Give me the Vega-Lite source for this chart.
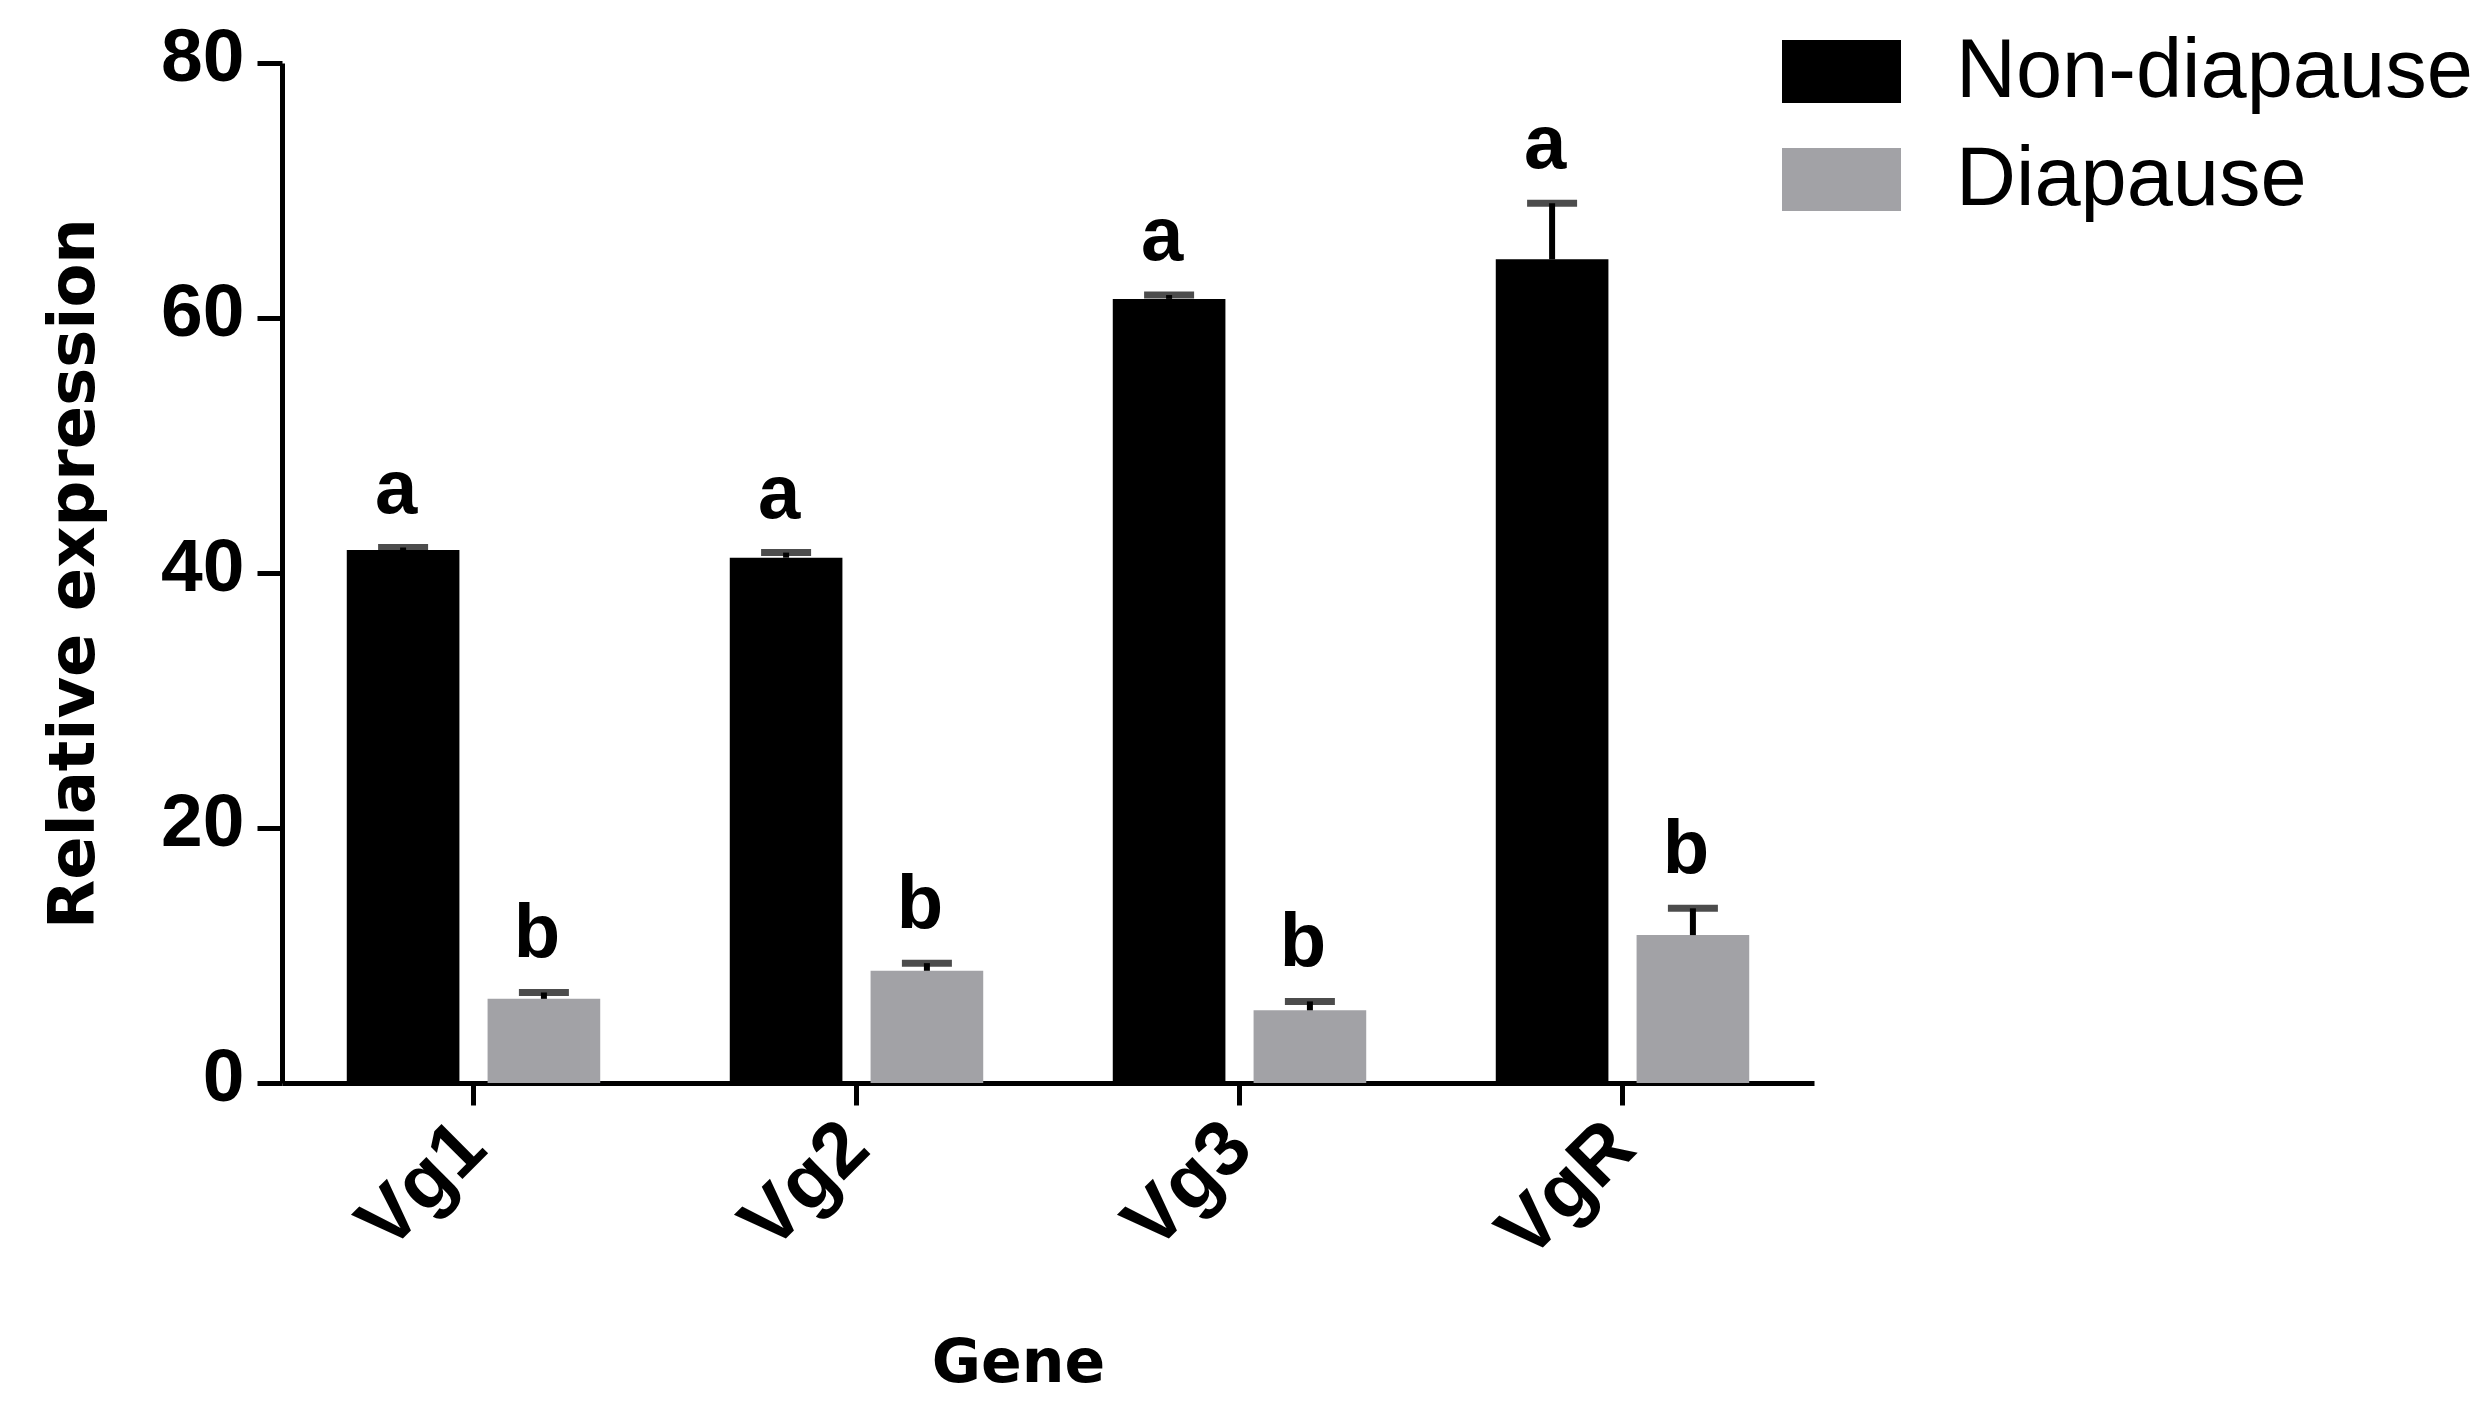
{
  "$schema": "https://vega.github.io/schema/vega-lite/v6.json",
  "width": 1532,
  "height": 1020,
  "autosize": {"type": "none"},
  "padding": {"left": 282, "top": 63, "right": 670, "bottom": 329},
  "background": "white",
  "config": {"view": {"stroke": null}},
  "data": {
    "values": [
      {"gene": "Vg1", "group": "Non-diapause", "value": 41.8, "upper": 42.0, "sig": "a"},
      {"gene": "Vg1", "group": "Diapause", "value": 6.6, "upper": 7.1, "sig": "b"},
      {"gene": "Vg2", "group": "Non-diapause", "value": 41.2, "upper": 41.6, "sig": "a"},
      {"gene": "Vg2", "group": "Diapause", "value": 8.8, "upper": 9.4, "sig": "b"},
      {"gene": "Vg3", "group": "Non-diapause", "value": 61.5, "upper": 61.8, "sig": "a"},
      {"gene": "Vg3", "group": "Diapause", "value": 5.7, "upper": 6.4, "sig": "b"},
      {"gene": "VgR", "group": "Non-diapause", "value": 64.6, "upper": 69.0, "sig": "a"},
      {"gene": "VgR", "group": "Diapause", "value": 11.6, "upper": 13.7, "sig": "b"}
    ]
  },
  "encoding": {
    "x": {
      "field": "gene",
      "type": "nominal",
      "sort": ["Vg1", "Vg2", "Vg3", "VgR"],
      "scale": {"paddingInner": 0, "paddingOuter": 0},
      "title": "Gene",
      "axis": {
        "domainColor": "black",
        "domainWidth": 5,
        "tickColor": "black",
        "tickWidth": 5,
        "tickSize": 22,
        "labelAngle": -45,
        "labelAlign": "right",
        "labelBaseline": "middle",
        "labelFont": "Liberation Sans",
        "labelFontWeight": "bold",
        "labelFontSize": 78,
        "labelColor": "black",
        "labelPadding": 30,
        "titleFont": "DejaVu Sans",
        "titleFontWeight": "bold",
        "titleFontSize": 60,
        "titleColor": "black",
        "titlePadding": 62,
        "titleX": 736
      }
    },
    "xOffset": {
      "field": "group",
      "type": "nominal",
      "sort": ["Non-diapause", "Diapause"],
      "scale": {"paddingInner": 0.2, "paddingOuter": 0.46}
    }
  },
  "layer": [
    {
      "mark": {"type": "bar"},
      "encoding": {
        "y": {
          "field": "value",
          "type": "quantitative",
          "scale": {"domain": [0, 80]},
          "title": "Relative expression",
          "axis": {
            "values": [0, 20, 40, 60, 80],
            "grid": false,
            "domainColor": "black",
            "domainWidth": 5,
            "tickColor": "black",
            "tickWidth": 5,
            "tickSize": 25,
            "labelFont": "Liberation Sans",
            "labelFontWeight": "bold",
            "labelFontSize": 75,
            "labelColor": "black",
            "labelPadding": 13,
            "labelOffset": -6,
            "titleFont": "DejaVu Sans",
            "titleFontWeight": "bold",
            "titleFontSize": 64,
            "titleColor": "black",
            "titlePadding": 54
          }
        },
        "color": {
          "field": "group",
          "type": "nominal",
          "sort": ["Non-diapause", "Diapause"],
          "scale": {"domain": ["Non-diapause", "Diapause"], "range": ["#000000", "#a2a2a6"]},
          "legend": {
            "orient": "none",
            "legendX": 1500,
            "legendY": -51,
            "title": null,
            "symbolType": "M-1,-0.53H1V0.53H-1Z",
            "symbolSize": 14161,
            "symbolStrokeWidth": 0,
            "labelFont": "Liberation Sans",
            "labelFontSize": 83,
            "labelOffset": 55,
            "labelLimit": 1000,
            "labelColor": "black",
            "rowPadding": 6,
            "padding": 0
          }
        }
      }
    },
    {
      "mark": {"type": "rule", "strokeWidth": 6, "color": "black"},
      "encoding": {
        "y": {"field": "value", "type": "quantitative"},
        "y2": {"field": "upper"}
      }
    },
    {
      "mark": {"type": "tick", "color": "black", "thickness": 7, "size": 50},
      "encoding": {
        "y": {"field": "upper", "type": "quantitative"}
      }
    },
    {
      "mark": {"type": "text", "font": "Liberation Sans", "fontWeight": "bold", "fontSize": 76, "baseline": "alphabetic", "dy": -35, "dx": -7, "color": "black"},
      "encoding": {
        "y": {"field": "upper", "type": "quantitative"},
        "text": {"field": "sig"}
      }
    }
  ]
}
